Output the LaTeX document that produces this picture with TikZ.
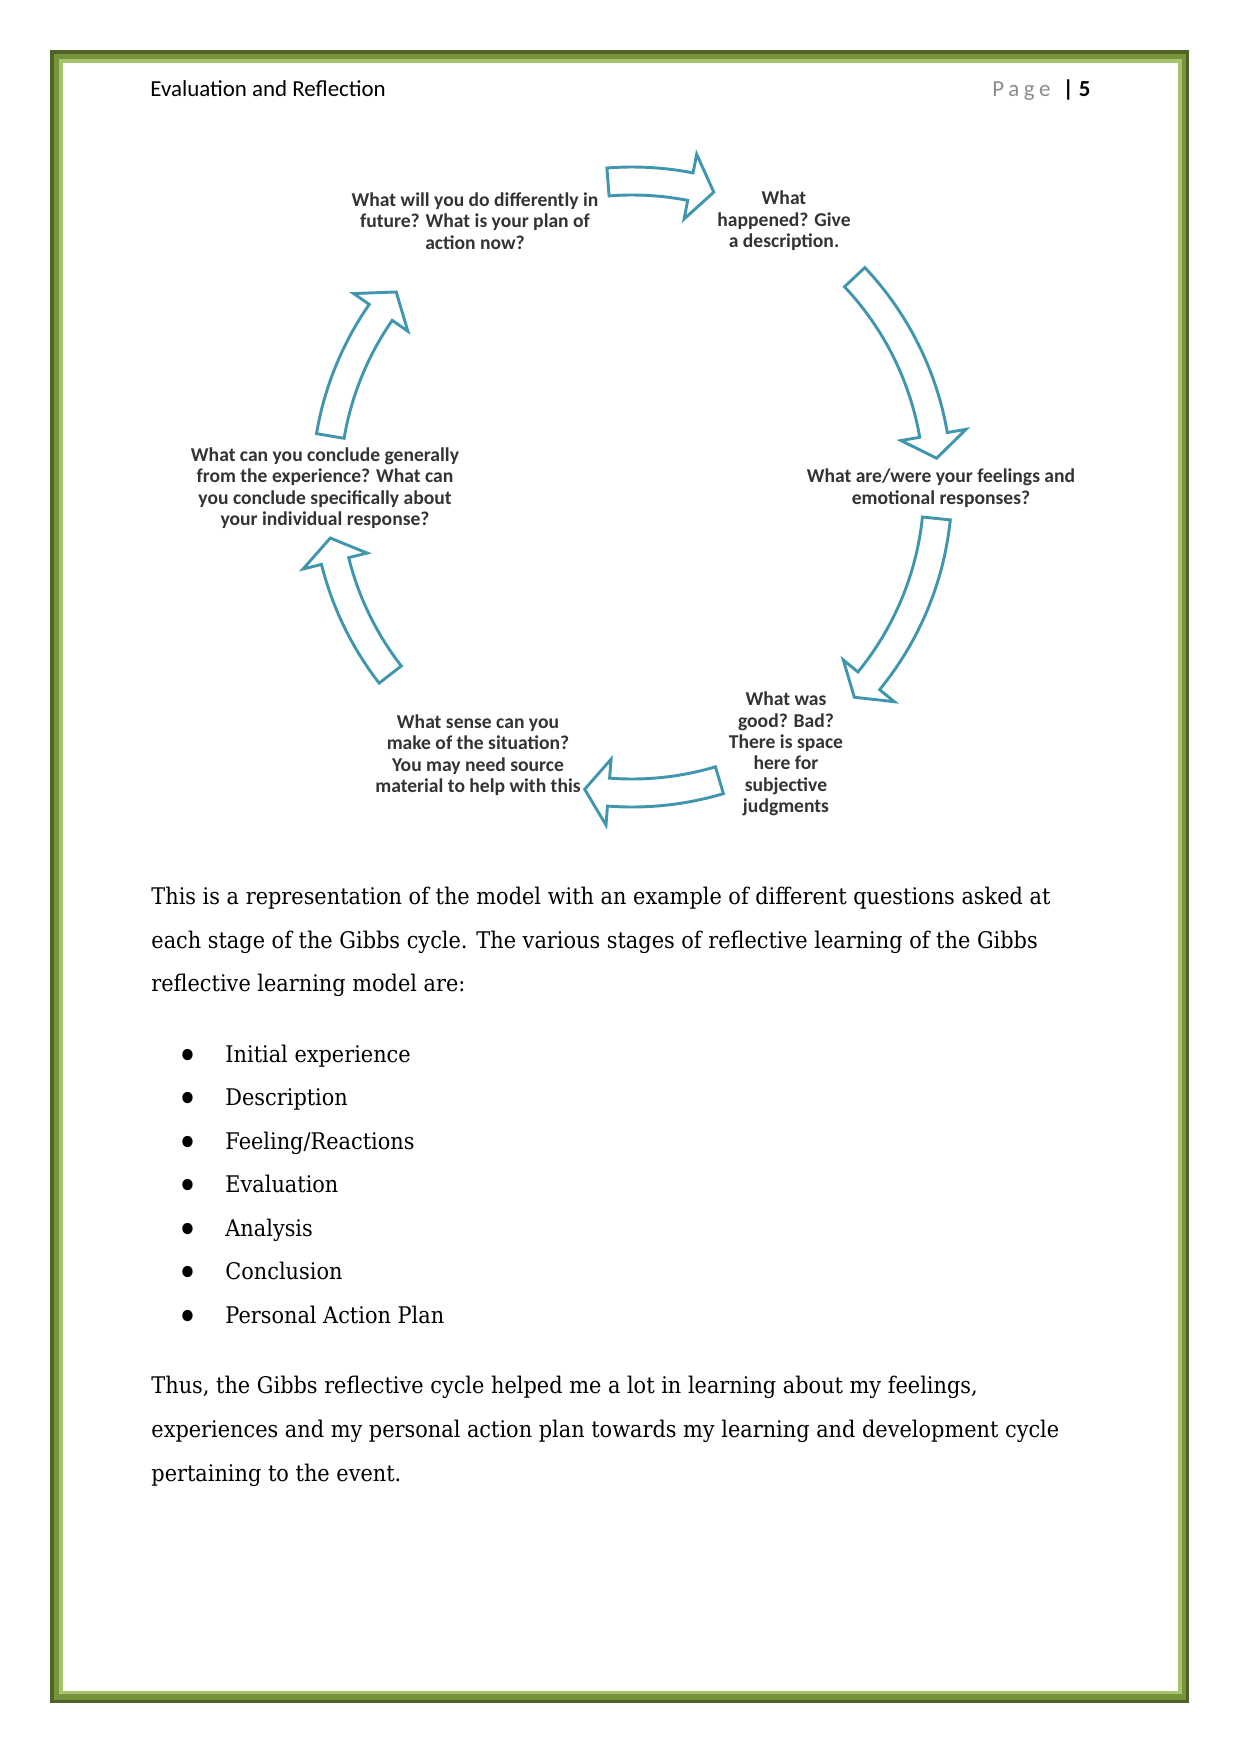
\documentclass[tikz,border=0pt]{standalone}
\usepackage{fontspec}
\setmainfont{DejaVu Serif}[FakeStretch=0.91]
\newfontfamily\headfont{Carlito}
\newfontfamily\pagefont{Carlito}[LetterSpace=20]
\usetikzlibrary{calc}
\definecolor{cycleteal}{HTML}{4097AD}
\definecolor{olivedark}{HTML}{4F6228}
\definecolor{olivemid}{HTML}{77933C}
\definecolor{olivelight}{HTML}{A6C46C}
\definecolor{pagegray}{HTML}{8C8C8C}
\definecolor{qgray}{HTML}{333333}

% block arrow bent round the cycle: tail angle, head base angle, tip angle
\newcommand{\cyclearrow}[3]{%
  \draw[cycarrow] ($(cyc)+(#1:320)$) arc[start angle=#1, end angle=#2, radius=320]
    -- ($(cyc)+(#2:339)$) -- ($(cyc)+(#3:306)$) -- ($(cyc)+(#2:273)$)
    -- ($(cyc)+(#2:292)$) arc[start angle=#2, end angle=#1, radius=292] -- cycle;}
\newcommand{\stagebullet}{\llap{\raisebox{-3.4pt}{\scalebox{1.7}{\textbullet}}\hspace{13pt}}}

\begin{document}
\begin{tikzpicture}[x=0.48pt, y=-0.48pt,
    cycarrow/.style={draw=cycleteal, fill=white, line width=1.4pt, line join=miter},
    quest/.style={font=\headfont\bfseries\fontsize{9.4}{10.3}\selectfont, text=qgray,
                  align=center, inner sep=0pt},
    body/.style={font=\fontsize{11}{12}\selectfont, anchor=base west, inner sep=0pt},
    listitem/.style={body, execute at begin node={\stagebullet}}]
  % page and frame
  \useasboundingbox (0,0) rectangle (1241,1754);
  \fill[white] (0,0) rectangle (1241,1754);
  \fill[olivedark]  (50,50) rectangle (1189,1703);
  \fill[olivemid]   (54,54) rectangle (1186,1700);
  \fill[olivelight] (59,59) rectangle (1182,1694);
  \fill[white]      (63,63) rectangle (1178,1691);
  % header
  \node[anchor=base west, inner sep=0pt, font=\headfont\fontsize{11}{13}\selectfont] (title) at (150,96)
    {Evaluation and Reflection};
  \node[anchor=base east, inner sep=0pt, font=\headfont\fontsize{11}{13}\selectfont] (pageno) at (1091,96)
    {{\pagefont\color{pagegray}Page}\hspace{6pt}\textbf{| 5}};
  % Gibbs cycle
  \coordinate (cyc) at (632,487);
  \node[quest] (describe) at (784,221) {What\\happened? Give\\a description.};
  \node[quest] (feelings) at (941,488) {What are/were your feelings and\\emotional responses?};
  \node[quest] (evaluate) at (786,754) {What was\\good? Bad?\\There is space\\here for\\subjective\\judgments};
  \node[quest] (analyse)  at (478,755) {What sense can you\\make of the situation?\\You may need source\\material to help with this};
  \node[quest] (conclude) at (325,488) {What can you conclude generally\\from the experience? What can\\you conclude specifically about\\your individual response?};
  \node[quest] (plan)     at (475,221) {What will you do differently in\\future? What is your plan of\\action now?};
  \cyclearrow{-94.5}{-79}{-74.5}
  \cyclearrow{-43.3}{-9.8}{-5.4}
  \cyclearrow{5.9}{39.3}{43.4}
  \cyclearrow{73.4}{94.4}{98.9}
  \cyclearrow{142.2}{166}{170.4}
  \cyclearrow{189.6}{214.8}{219.6}
  % text below the cycle
  \node[body] (intro1) at (151,904) {This is a representation of the model with an example of different questions asked at};
  \node[body] (intro2) at (151,948) {each stage of the Gibbs cycle. The various stages of reflective learning of the Gibbs};
  \node[body] (intro3) at (151,991) {reflective learning model are:};
  \node[listitem] (stage1) at (225,1062) {Initial experience};
  \node[listitem] (stage2) at (225,1105) {Description};
  \node[listitem] (stage3) at (225,1149) {Feeling/Reactions};
  \node[listitem] (stage4) at (225,1192) {Evaluation};
  \node[listitem] (stage5) at (225,1236) {Analysis};
  \node[listitem] (stage6) at (225,1279) {Conclusion};
  \node[listitem] (stage7) at (225,1323) {Personal Action Plan};
  \node[body] (outro1) at (151,1393) {Thus, the Gibbs reflective cycle helped me a lot in learning about my feelings,};
  \node[body] (outro2) at (151,1437) {experiences and my personal action plan towards my learning and development cycle};
  \node[body] (outro3) at (151,1481) {pertaining to the event.};
\end{tikzpicture}
\end{document}
